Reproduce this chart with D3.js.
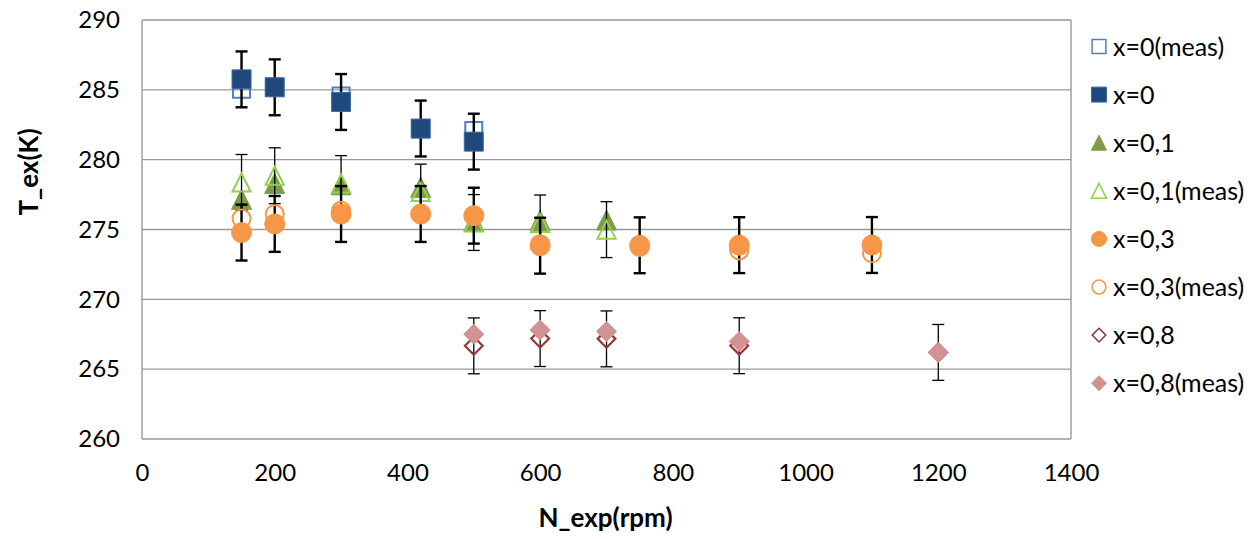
<!DOCTYPE html>
<html>
<head>
<meta charset="utf-8">
<script src="https://cdn.jsdelivr.net/npm/d3@7"></script>
<style>
  html, body { margin: 0; padding: 0; background: #fff; }
  svg { display: block; font-family: Lato, "Open Sans", sans-serif; }
</style>
</head>
<body>
<svg id="chart" width="1257" height="539"></svg>
<script>
// Engine speed (rpm) for each series
const nX0 = [150, 200, 300, 420, 500];
const nX01 = [150, 200, 300, 420, 500, 600, 700];
const nX03 = [150, 200, 300, 420, 500, 600, 750, 900, 1100];
const nX08 = [500, 600, 700, 900, 1200];

// Exhaust temperature T_ex (K)
const tX0Meas = [285.05, 285.2, 284.56, 282.2, 282.08];
const tX0 = [285.75, 285.18, 284.13, 282.23, 281.29];
const tX01 = [277.16, 278.3, 278.2, 278.02, 275.6, 275.65, 275.68];
const tX01Meas = [278.37, 278.85, 278.29, 277.68, 275.5, 275.47, 274.99];
const tX03 = [274.78, 275.4, 276.11, 276.11, 275.99, 273.84, 273.87, 273.88, 273.89];
const tX03Meas = [275.78, 276.1, 276.35, 276.1, 276.0, 273.95, 273.75, 273.5, 273.3];
const tX08 = [266.67, 267.19, 267.17, 266.68, 266.2];
const tX08Meas = [267.5, 267.8, 267.7, 266.98, 266.2];

// Error bar half-width (K), 0 = no error bars
const errX0 = 2, errX01Meas = 2, errX03 = 2, errX08 = 2;

const xTicks = [0, 200, 400, 600, 800, 1000, 1200, 1400];
const yTicks = [260, 265, 270, 275, 280, 285, 290];

const seriesNames = ["x=0(meas)", "x=0", "x=0,1", "x=0,1(meas)", "x=0,3", "x=0,3(meas)", "x=0,8", "x=0,8(meas)"];

const series = [
  { name: seriesNames[0], n: nX0, t: tX0Meas, shape: "square", fill: "none", stroke: "#4F81BD", sw: 2, err: 0 },
  { name: seriesNames[1], n: nX0, t: tX0, shape: "square", fill: "#1F497D", stroke: "#3F6CA6", sw: 1, err: errX0, errW: 2.4 },
  { name: seriesNames[2], n: nX01, t: tX01, shape: "triangle", fill: "#7F9A48", stroke: "#7F9A48", sw: 1, err: 0 },
  { name: seriesNames[3], n: nX01, t: tX01Meas, shape: "triangle", fill: "none", stroke: "#92D050", sw: 2, err: errX01Meas, errW: 1.3 },
  { name: seriesNames[4], n: nX03, t: tX03, shape: "circle", fill: "#F79646", stroke: "#F79646", sw: 1, err: errX03, errW: 2.4 },
  { name: seriesNames[5], n: nX03, t: tX03Meas, shape: "circle", fill: "none", stroke: "#F79646", sw: 2, err: 0 },
  { name: seriesNames[6], n: nX08, t: tX08, shape: "diamond", fill: "none", stroke: "#953735", sw: 2.2, err: errX08, errW: 1.3 },
  { name: seriesNames[7], n: nX08, t: tX08Meas, shape: "diamond", fill: "#D09392", stroke: "#D09392", sw: 1, err: 0 }
];

const svg = d3.select("#chart");
const plot = { left: 142, right: 1071, top: 20, bottom: 439 };

const x = d3.scaleLinear().domain([0, 1400]).range([plot.left, plot.right]);
const y = d3.scaleLinear().domain([260, 290]).range([plot.bottom, plot.top]);

// Gridlines
svg.append("g")
  .selectAll("line")
  .data(yTicks)
  .join("line")
  .attr("x1", plot.left).attr("x2", plot.right)
  .attr("y1", d => y(d)).attr("y2", d => y(d))
  .attr("stroke", "#9a9a9a").attr("stroke-width", 1.4);

// Plot frame: left axis and right edge
svg.append("line").attr("x1", plot.left).attr("x2", plot.left)
  .attr("y1", plot.top).attr("y2", plot.bottom)
  .attr("stroke", "#9a9a9a").attr("stroke-width", 1.4);
svg.append("line").attr("x1", plot.right).attr("x2", plot.right)
  .attr("y1", plot.top).attr("y2", plot.bottom)
  .attr("stroke", "#9a9a9a").attr("stroke-width", 1.4);

// Axes (labels only)
const yAxis = d3.axisLeft(y).tickValues(yTicks).tickSize(0).tickPadding(22).tickFormat(d3.format("d"));
const gy = svg.append("g").attr("transform", `translate(${plot.left},0)`).call(yAxis);
gy.select(".domain").remove();
gy.selectAll("text").attr("font-size", 24).attr("font-family", "Lato, sans-serif").attr("fill", "#000");

const xAxis = d3.axisBottom(x).tickValues(xTicks).tickSize(0).tickPadding(25).tickFormat(d3.format("d"));
const gx = svg.append("g").attr("transform", `translate(0,${plot.bottom})`).call(xAxis);
gx.select(".domain").remove();
gx.selectAll("text").attr("font-size", 24).attr("font-family", "Lato, sans-serif").attr("fill", "#000");

// Axis titles
svg.append("text")
  .attr("x", (plot.left + plot.right) / 2 - 1).attr("y", 527)
  .attr("text-anchor", "middle")
  .attr("font-size", 26).attr("font-weight", "bold").attr("fill", "#000")
  .text("N_exp(rpm)");

svg.append("text")
  .attr("transform", "translate(38,172) rotate(-90)")
  .attr("text-anchor", "middle")
  .attr("font-size", 26).attr("font-weight", "bold").attr("fill", "#000")
  .text("T_ex(K)");

// Marker outline paths centred on (0,0) for a marker of size s
function markerPath(shape, s) {
  const h = s / 2;
  if (shape === "square") return `M${-h},${-h}H${h}V${h}H${-h}Z`;
  if (shape === "triangle") { const th = s * 0.5; return `M0,${-th}L${h},${th}L${-h},${th}Z`; }
  if (shape === "diamond") return `M0,${-h}L${h},0L0,${h}L${-h},0Z`;
  return circlePath(h);
}
function circlePath(r) {
  return `M${r},0A${r},${r} 0 1,1 ${-r},0A${r},${r} 0 1,1 ${r},0Z`;
}

const markerSize = { square: 19, triangle: 20, circle: 20, diamond: 20 };

const gData = svg.append("g");
series.forEach(s => {
  const pts = s.n.map((n, i) => ({ n, t: s.t[i] }));
  const g = gData.append("g");
  if (s.err > 0) {
    const eb = g.append("g").attr("stroke", "#000").attr("stroke-width", s.errW);
    pts.forEach(p => {
      const x0 = x(p.n), yTop = y(p.t + s.err), yBot = y(p.t - s.err);
      const cap = 6;
      eb.append("line").attr("x1", x0).attr("x2", x0).attr("y1", yTop).attr("y2", yBot);
      eb.append("line").attr("x1", x0 - cap).attr("x2", x0 + cap).attr("y1", yTop).attr("y2", yTop);
      eb.append("line").attr("x1", x0 - cap).attr("x2", x0 + cap).attr("y1", yBot).attr("y2", yBot);
    });
  }
  const size = markerSize[s.shape] - (s.fill === "none" ? s.sw : 0);
  g.selectAll("path.mk")
    .data(pts)
    .join("path")
    .attr("class", "mk")
    .attr("d", markerPath(s.shape, size))
    .attr("transform", d => `translate(${x(d.n)},${y(d.t)})`)
    .attr("fill", s.fill)
    .attr("stroke", s.stroke)
    .attr("stroke-width", s.sw);
});

// Legend
const legend = svg.append("g");
const legY0 = 46.5, legDy = 48.1, legMx = 1099, legTx = 1113;
series.forEach((s, i) => {
  const ly = legY0 + i * legDy;
  const ms = 15 - (s.fill === "none" ? s.sw * 0.6 : 0);
  legend.append("path")
    .attr("d", markerPath(s.shape, s.shape === "triangle" ? 15 : ms))
    .attr("transform", `translate(${legMx},${ly})`)
    .attr("fill", s.fill)
    .attr("stroke", s.stroke)
    .attr("stroke-width", s.fill === "none" ? 1.5 : 1);
  legend.append("text")
    .attr("x", legTx).attr("y", ly)
    .attr("dy", "0.36em")
    .attr("font-size", 25).attr("fill", "#000")
    .text(s.name);
});
</script>
</body>
</html>
